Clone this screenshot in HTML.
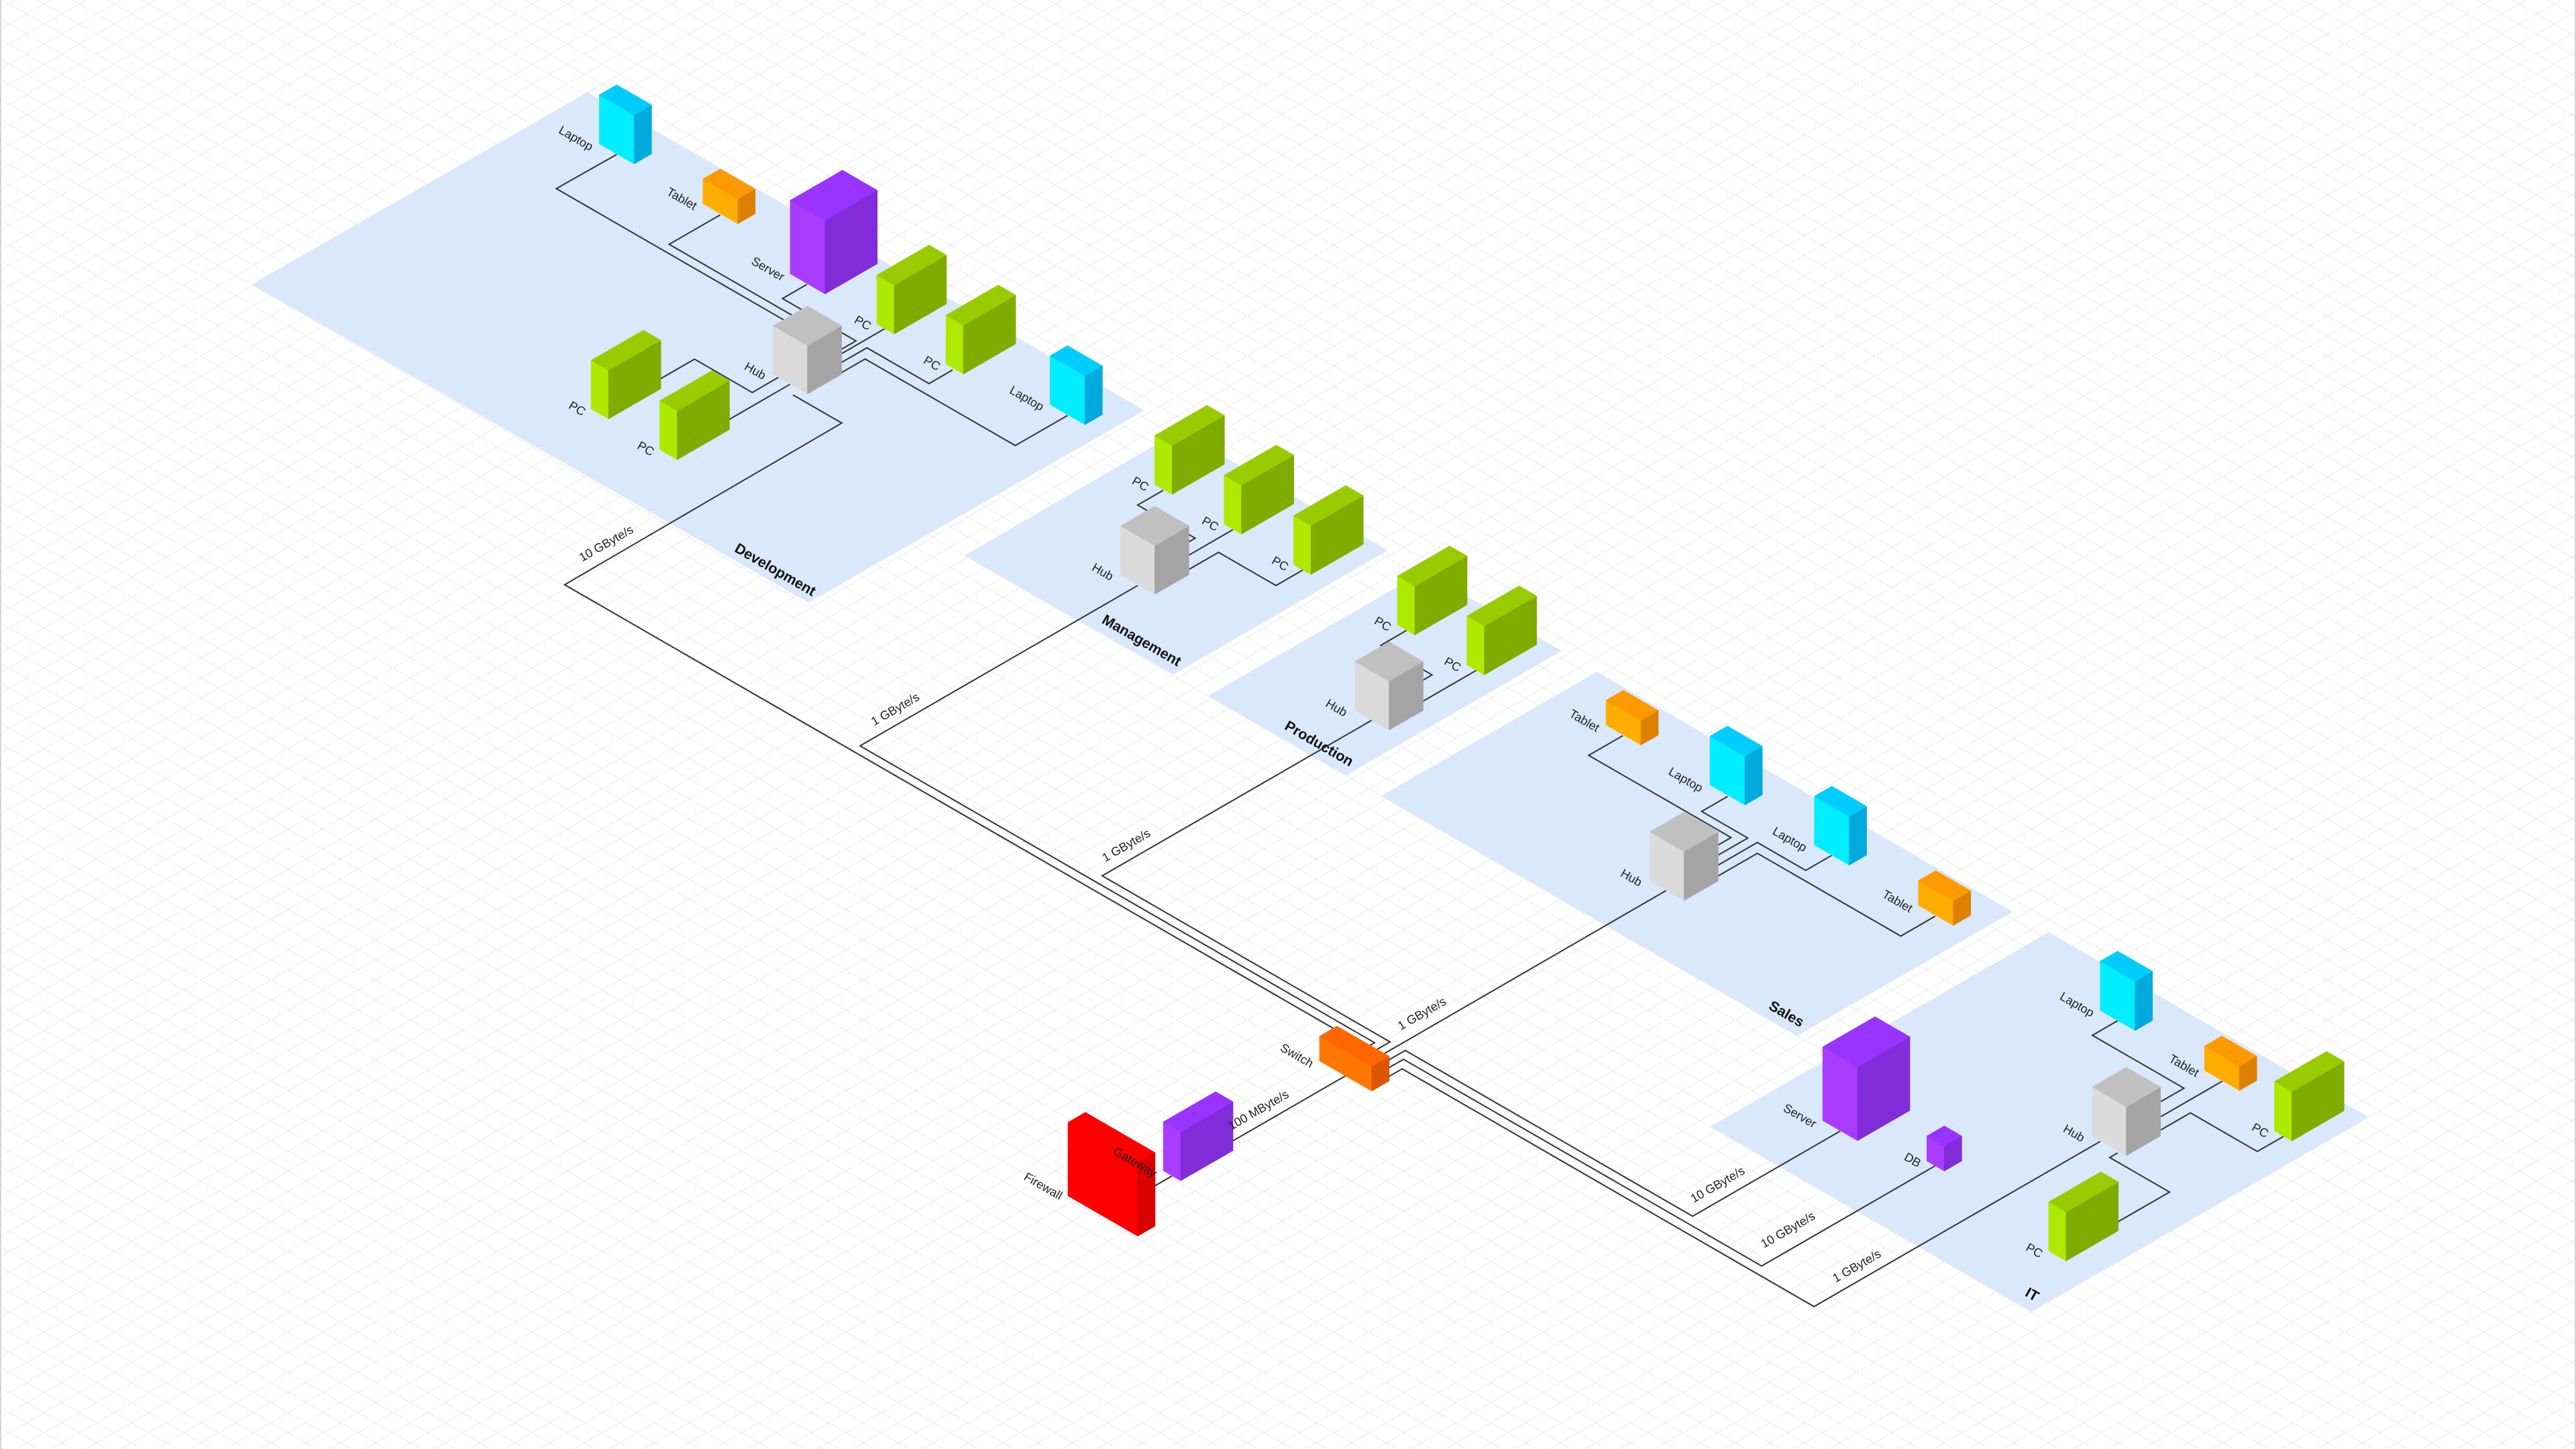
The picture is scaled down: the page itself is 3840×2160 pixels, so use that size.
<!DOCTYPE html>
<html>
<head>
<meta charset="utf-8">
<style>
html,body{margin:0;padding:0;background:#fff;}
svg{display:block;}
.l,.r,.t{stroke-width:.3;stroke-linejoin:round;}
.cy .l{fill:#00eeff;stroke:#00eeff}.cy .t{fill:#00ccff;stroke:#00ccff}.cy .r{fill:#00aadd;stroke:#00aadd}
.lm .l{fill:#aeea00;stroke:#aeea00}.lm .t{fill:#99cc00;stroke:#99cc00}.lm .r{fill:#80ab00;stroke:#80ab00}
.pu .l{fill:#aa3cff;stroke:#aa3cff}.pu .t{fill:#9933ff;stroke:#9933ff}.pu .r{fill:#812bd9;stroke:#812bd9}
.or .l{fill:#ffae00;stroke:#ffae00}.or .t{fill:#ff9900;stroke:#ff9900}.or .r{fill:#dd8000;stroke:#dd8000}
.gy .l{fill:#dbdbdb;stroke:#dbdbdb}.gy .t{fill:#c0c0c0;stroke:#c0c0c0}.gy .r{fill:#a4a4a4;stroke:#a4a4a4}
.sw .l{fill:#ff7700;stroke:#ff7700}.sw .t{fill:#ff6600;stroke:#ff6600}.sw .r{fill:#dd5500;stroke:#dd5500}
.rd .l{fill:#ff0000;stroke:#ff0000}.rd .t{fill:#ff0000;stroke:#ff0000}.rd .r{fill:#d90000;stroke:#d90000}
.pl{fill:#dae8fc;}
.cn polyline{fill:none;stroke:#333333;stroke-width:.82;stroke-linejoin:miter;}
.lb text{font-family:"Liberation Sans",Arial,sans-serif;font-size:7.4px;fill:#222;}
.lb text.g{font-weight:bold;font-size:8.8px;fill:#111;}
</style>
</head>
<body>
<svg xmlns="http://www.w3.org/2000/svg" width="3840" height="2160" viewBox="0 0 3840 2160">
<defs>
<pattern id="grid" x="14.02" y="5.7" width="51.962" height="30" patternUnits="userSpaceOnUse">
<path d="M0 0L51.962 30M0 30L51.962 0" stroke="#d2d2d2" stroke-width="1" stroke-dasharray="2 2" fill="none"/>
</pattern>
</defs>
<rect width="3840" height="2160" fill="#ffffff"/>
<rect width="3840" height="2160" fill="url(#grid)"/>
<rect x="0" y="0" width="2" height="2160" fill="#d6d6d6"/>
<rect x="3838" y="0" width="2" height="2160" fill="#d6d6d6"/>

<g transform="scale(2.44898)">

<!-- Planes -->
<polygon class="pl" points="153.3,173.1 357.7,56.1 696.6,249.8 492.2,366.8"/>
<polygon class="pl" points="587.2,338.1 717.7,262.5 844.7,335 714.2,410.6"/>
<polygon class="pl" points="735.5,423.6 866.8,347.8 950.5,396.2 819.2,472"/>
<polygon class="pl" points="840.7,484.5 972,409 1225.1,555 1094,630.5"/>
<polygon class="pl" points="1041.2,685.7 1247,567.4 1441.7,680 1236.4,798.3"/>

<!-- Connectors -->
<g class="cn">
<!-- Development -->
<polyline points="375.4,94 338.6,114.8 485,199.3"/>
<polyline points="438.4,130.8 407.3,148.7 488,195.3"/>
<polyline points="491.2,173.1 476.3,181.7 521,207.5 512.4,212.5"/>
<polyline points="538.3,200.2 512.4,215.2"/>
<polyline points="579.8,225.2 565.5,233.5 527.7,211.7 512.4,220.5"/>
<polyline points="649.8,252.9 618,271.2 526.6,218.5 512.4,226.7"/>
<polyline points="401.6,230.8 422.8,218.6 457.9,238.9 474.5,229.3"/>
<polyline points="443.7,255.4 480.9,233.9"/>
<polyline points="482.7,240.4 512.4,257.5 343.7,355.9 828,635.4 822,639"/>
<!-- Management -->
<polyline points="708,298.5 692.5,307.4 727.5,327.6 723.7,329.8"/>
<polyline points="750.5,322.4 723.7,337.9"/>
<polyline points="793,347 776.7,356.4 741.7,336.2 723.7,346.6"/>
<polyline points="692.5,356.4 523.5,454 836.7,634.7 831,638"/>
<!-- Production -->
<polyline points="856.2,383.7 840.5,392.8 871.7,410.8 866.2,414"/>
<polyline points="898.7,408 866.2,426.8"/>
<polyline points="835,438.4 670.9,533.1 846.1,634.2 836,640"/>
<!-- Sales -->
<polyline points="987.8,447.8 967,459.8 1053.7,509.8 1046,514.3"/>
<polyline points="1051.6,484.8 1035.8,493.9 1063.9,510.1 1046,520.4"/>
<polyline points="1114.9,520.7 1099.1,529.8 1069.7,512.8 1046,526.5"/>
<polyline points="1177.9,557.7 1157,569.8 1069.7,519.4 1046,533.1"/>
<polyline points="1014.1,542.1 838,644"/>
<!-- IT -->
<polyline points="1289,621.3 1273.6,630.2 1329.4,662.4 1315.3,670.5"/>
<polyline points="1352.7,658.1 1315.3,679.7"/>
<polyline points="1390,691.7 1374,700.9 1333.3,677.4 1315.3,687.8"/>
<polyline points="1288.7,744 1320.6,725.6 1284.2,704.6 1289,701.8"/>
<polyline points="1278.4,694.8 1104.2,795.3 853.5,650.6 840,658.4"/>
<polyline points="1178,709.6 1072.3,770.6 854.3,644.8 840,653"/>
<polyline points="1120.1,688.5 1030.3,740.3 855.4,639.4 840,648.3"/>
<!-- Firewall/Gateway/Switch -->
<polyline points="690,729.3 825,651.4"/>
</g>

<!-- Boxes (back to front) -->
<!-- Dev Laptop1 -->
<g class="cy" transform="translate(386,99.8)"><rect class="l" width="24.5" height="29.8" transform="matrix(-.866,-.5,0,-1,0,0)"/><rect class="r" width="12.25" height="29.8" transform="matrix(.866,-.5,0,-1,0,0)"/><rect class="t" width="24.5" height="12.25" transform="matrix(-.866,-.5,.866,-.5,0,-29.8)"/></g>
<!-- Dev Tablet -->
<g class="or" transform="translate(449.1,136.2)"><rect class="l" width="24.5" height="15" transform="matrix(-.866,-.5,0,-1,0,0)"/><rect class="r" width="12.25" height="15" transform="matrix(.866,-.5,0,-1,0,0)"/><rect class="t" width="24.5" height="12.25" transform="matrix(-.866,-.5,.866,-.5,0,-15)"/></g>
<!-- Dev Server -->
<g class="pu" transform="translate(502.2,178.9)"><rect class="l" width="24.5" height="44.7" transform="matrix(-.866,-.5,0,-1,0,0)"/><rect class="r" width="36.75" height="44.7" transform="matrix(.866,-.5,0,-1,0,0)"/><rect class="t" width="24.5" height="36.75" transform="matrix(-.866,-.5,.866,-.5,0,-44.7)"/></g>
<!-- Dev PC1 -->
<g class="lm" transform="translate(544.3,203.3)"><rect class="l" width="12.25" height="29.7" transform="matrix(-.866,-.5,0,-1,0,0)"/><rect class="r" width="36.75" height="29.7" transform="matrix(.866,-.5,0,-1,0,0)"/><rect class="t" width="12.25" height="36.75" transform="matrix(-.866,-.5,.866,-.5,0,-29.7)"/></g>
<!-- Dev PC2 -->
<g class="lm" transform="translate(586.4,227.7)"><rect class="l" width="12.25" height="29.7" transform="matrix(-.866,-.5,0,-1,0,0)"/><rect class="r" width="36.75" height="29.7" transform="matrix(.866,-.5,0,-1,0,0)"/><rect class="t" width="12.25" height="36.75" transform="matrix(-.866,-.5,.866,-.5,0,-29.7)"/></g>
<!-- Dev Hub -->
<g class="gy" transform="translate(491.5,239.8)"><rect class="l" width="24" height="29.5" transform="matrix(-.866,-.5,0,-1,0,0)"/><rect class="r" width="24" height="29.5" transform="matrix(.866,-.5,0,-1,0,0)"/><rect class="t" width="24" height="24" transform="matrix(-.866,-.5,.866,-.5,0,-29.5)"/></g>
<!-- Dev PC L1 -->
<g class="lm" transform="translate(370.4,255)"><rect class="l" width="12.25" height="29.5" transform="matrix(-.866,-.5,0,-1,0,0)"/><rect class="r" width="36.75" height="29.5" transform="matrix(.866,-.5,0,-1,0,0)"/><rect class="t" width="12.25" height="36.75" transform="matrix(-.866,-.5,.866,-.5,0,-29.5)"/></g>
<!-- Dev Laptop2 -->
<g class="cy" transform="translate(660.4,258.5)"><rect class="l" width="24.5" height="29.7" transform="matrix(-.866,-.5,0,-1,0,0)"/><rect class="r" width="12.25" height="29.7" transform="matrix(.866,-.5,0,-1,0,0)"/><rect class="t" width="24.5" height="12.25" transform="matrix(-.866,-.5,.866,-.5,0,-29.7)"/></g>
<!-- Dev PC L2 -->
<g class="lm" transform="translate(412.2,279.8)"><rect class="l" width="12.25" height="29.7" transform="matrix(-.866,-.5,0,-1,0,0)"/><rect class="r" width="36.75" height="29.7" transform="matrix(.866,-.5,0,-1,0,0)"/><rect class="t" width="12.25" height="36.75" transform="matrix(-.866,-.5,.866,-.5,0,-29.7)"/></g>

<!-- Mgmt PCs -->
<g class="lm" transform="translate(713.5,300.9)"><rect class="l" width="12.25" height="29.7" transform="matrix(-.866,-.5,0,-1,0,0)"/><rect class="r" width="36.75" height="29.7" transform="matrix(.866,-.5,0,-1,0,0)"/><rect class="t" width="12.25" height="36.75" transform="matrix(-.866,-.5,.866,-.5,0,-29.7)"/></g>
<g class="lm" transform="translate(755.7,325.1)"><rect class="l" width="12.25" height="29.7" transform="matrix(-.866,-.5,0,-1,0,0)"/><rect class="r" width="36.75" height="29.7" transform="matrix(.866,-.5,0,-1,0,0)"/><rect class="t" width="12.25" height="36.75" transform="matrix(-.866,-.5,.866,-.5,0,-29.7)"/></g>
<g class="lm" transform="translate(798,349.7)"><rect class="l" width="12.25" height="29.7" transform="matrix(-.866,-.5,0,-1,0,0)"/><rect class="r" width="36.75" height="29.7" transform="matrix(.866,-.5,0,-1,0,0)"/><rect class="t" width="12.25" height="36.75" transform="matrix(-.866,-.5,.866,-.5,0,-29.7)"/></g>
<!-- Mgmt Hub -->
<g class="gy" transform="translate(702.9,361.8)"><rect class="l" width="24" height="29.7" transform="matrix(-.866,-.5,0,-1,0,0)"/><rect class="r" width="24" height="29.7" transform="matrix(.866,-.5,0,-1,0,0)"/><rect class="t" width="24" height="24" transform="matrix(-.866,-.5,.866,-.5,0,-29.7)"/></g>

<!-- Prod PCs -->
<g class="lm" transform="translate(861.2,386.5)"><rect class="l" width="12.25" height="29.7" transform="matrix(-.866,-.5,0,-1,0,0)"/><rect class="r" width="36.75" height="29.7" transform="matrix(.866,-.5,0,-1,0,0)"/><rect class="t" width="12.25" height="36.75" transform="matrix(-.866,-.5,.866,-.5,0,-29.7)"/></g>
<g class="lm" transform="translate(903.5,410.8)"><rect class="l" width="12.25" height="29.7" transform="matrix(-.866,-.5,0,-1,0,0)"/><rect class="r" width="36.75" height="29.7" transform="matrix(.866,-.5,0,-1,0,0)"/><rect class="t" width="12.25" height="36.75" transform="matrix(-.866,-.5,.866,-.5,0,-29.7)"/></g>
<!-- Prod Hub -->
<g class="gy" transform="translate(845.5,444.4)"><rect class="l" width="24" height="29.7" transform="matrix(-.866,-.5,0,-1,0,0)"/><rect class="r" width="24" height="29.7" transform="matrix(.866,-.5,0,-1,0,0)"/><rect class="t" width="24" height="24" transform="matrix(-.866,-.5,.866,-.5,0,-29.7)"/></g>

<!-- Sales -->
<g class="or" transform="translate(998.8,453.5)"><rect class="l" width="24.5" height="15" transform="matrix(-.866,-.5,0,-1,0,0)"/><rect class="r" width="12.25" height="15" transform="matrix(.866,-.5,0,-1,0,0)"/><rect class="t" width="24.5" height="12.25" transform="matrix(-.866,-.5,.866,-.5,0,-15)"/></g>
<g class="cy" transform="translate(1062.1,490)"><rect class="l" width="24.5" height="29.7" transform="matrix(-.866,-.5,0,-1,0,0)"/><rect class="r" width="12.25" height="29.7" transform="matrix(.866,-.5,0,-1,0,0)"/><rect class="t" width="24.5" height="12.25" transform="matrix(-.866,-.5,.866,-.5,0,-29.7)"/></g>
<g class="cy" transform="translate(1125.6,526.6)"><rect class="l" width="24.5" height="29.7" transform="matrix(-.866,-.5,0,-1,0,0)"/><rect class="r" width="12.25" height="29.7" transform="matrix(.866,-.5,0,-1,0,0)"/><rect class="t" width="24.5" height="12.25" transform="matrix(-.866,-.5,.866,-.5,0,-29.7)"/></g>
<g class="gy" transform="translate(1025.1,548.2)"><rect class="l" width="24" height="29.9" transform="matrix(-.866,-.5,0,-1,0,0)"/><rect class="r" width="24" height="29.9" transform="matrix(.866,-.5,0,-1,0,0)"/><rect class="t" width="24" height="24" transform="matrix(-.866,-.5,.866,-.5,0,-29.9)"/></g>
<g class="or" transform="translate(1188.9,563.3)"><rect class="l" width="24.5" height="15" transform="matrix(-.866,-.5,0,-1,0,0)"/><rect class="r" width="12.25" height="15" transform="matrix(.866,-.5,0,-1,0,0)"/><rect class="t" width="24.5" height="12.25" transform="matrix(-.866,-.5,.866,-.5,0,-15)"/></g>

<!-- IT Laptop -->
<g class="cy" transform="translate(1299.6,627.3)"><rect class="l" width="24.5" height="30" transform="matrix(-.866,-.5,0,-1,0,0)"/><rect class="r" width="12.25" height="30" transform="matrix(.866,-.5,0,-1,0,0)"/><rect class="t" width="24.5" height="12.25" transform="matrix(-.866,-.5,.866,-.5,0,-30)"/></g>
<!-- IT Tablet -->
<g class="or" transform="translate(1363.1,663.8)"><rect class="l" width="24.5" height="14.8" transform="matrix(-.866,-.5,0,-1,0,0)"/><rect class="r" width="12.25" height="14.8" transform="matrix(.866,-.5,0,-1,0,0)"/><rect class="t" width="24.5" height="12.25" transform="matrix(-.866,-.5,.866,-.5,0,-14.8)"/></g>
<!-- Switch -->
<g class="sw" transform="translate(835,664.1)"><rect class="l" width="36.75" height="15" transform="matrix(-.866,-.5,0,-1,0,0)"/><rect class="r" width="12.25" height="15" transform="matrix(.866,-.5,0,-1,0,0)"/><rect class="t" width="36.75" height="12.25" transform="matrix(-.866,-.5,.866,-.5,0,-15)"/></g>
<!-- IT Server -->
<g class="pu" transform="translate(1130.7,694.3)"><rect class="l" width="24.5" height="44.8" transform="matrix(-.866,-.5,0,-1,0,0)"/><rect class="r" width="36.75" height="44.8" transform="matrix(.866,-.5,0,-1,0,0)"/><rect class="t" width="24.5" height="36.75" transform="matrix(-.866,-.5,.866,-.5,0,-44.8)"/></g>
<!-- IT PC right -->
<g class="lm" transform="translate(1395,694.5)"><rect class="l" width="12.25" height="30" transform="matrix(-.866,-.5,0,-1,0,0)"/><rect class="r" width="36.75" height="30" transform="matrix(.866,-.5,0,-1,0,0)"/><rect class="t" width="12.25" height="36.75" transform="matrix(-.866,-.5,.866,-.5,0,-30)"/></g>
<!-- IT Hub -->
<g class="gy" transform="translate(1294.3,703.4)"><rect class="l" width="24" height="29.7" transform="matrix(-.866,-.5,0,-1,0,0)"/><rect class="r" width="24" height="29.7" transform="matrix(.866,-.5,0,-1,0,0)"/><rect class="t" width="24" height="24" transform="matrix(-.866,-.5,.866,-.5,0,-29.7)"/></g>
<!-- IT DB -->
<g class="pu" transform="translate(1183.5,712.8)"><rect class="l" width="12.25" height="15.2" transform="matrix(-.866,-.5,0,-1,0,0)"/><rect class="r" width="12.25" height="15.2" transform="matrix(.866,-.5,0,-1,0,0)"/><rect class="t" width="12.25" height="12.25" transform="matrix(-.866,-.5,.866,-.5,0,-15.2)"/></g>
<!-- Gateway -->
<g class="pu" transform="translate(718.7,718.7)"><rect class="l" width="12.25" height="29.7" transform="matrix(-.866,-.5,0,-1,0,0)"/><rect class="r" width="36.75" height="29.7" transform="matrix(.866,-.5,0,-1,0,0)"/><rect class="t" width="12.25" height="36.75" transform="matrix(-.866,-.5,.866,-.5,0,-29.7)"/></g>
<!-- Firewall -->
<g class="rd" transform="translate(692.5,752.4)"><rect class="l" width="49" height="44.7" transform="matrix(-.866,-.5,0,-1,0,0)"/><rect class="r" width="12.25" height="44.7" transform="matrix(.866,-.5,0,-1,0,0)"/><rect class="t" width="49" height="12.25" transform="matrix(-.866,-.5,.866,-.5,0,-44.7)"/></g>
<!-- IT PC bottom -->
<g class="lm" transform="translate(1257.6,767.5)"><rect class="l" width="12.25" height="29.7" transform="matrix(-.866,-.5,0,-1,0,0)"/><rect class="r" width="36.75" height="29.7" transform="matrix(.866,-.5,0,-1,0,0)"/><rect class="t" width="12.25" height="36.75" transform="matrix(-.866,-.5,.866,-.5,0,-29.7)"/></g>

<!-- Labels -->
<g class="lb" text-anchor="middle" dominant-baseline="central">
<!-- Development -->
<text transform="translate(350.6,84.2) rotate(30)">Laptop</text>
<text transform="translate(415,121) rotate(30)">Tablet</text>
<text transform="translate(467.5,163.7) rotate(30)">Server</text>
<text transform="translate(525.2,196.6) rotate(30)">PC</text>
<text transform="translate(567.3,221.2) rotate(30)">PC</text>
<text transform="translate(625,242.5) rotate(30)">Laptop</text>
<text transform="translate(459.7,225.8) rotate(30)">Hub</text>
<text transform="translate(351.3,248.7) rotate(30)">PC</text>
<text transform="translate(393.1,273.1) rotate(30)">PC</text>
<text transform="translate(369,330.8) rotate(-30)">10 GByte/s</text>
<text class="g" transform="translate(472,346.6) rotate(30)">Development</text>
<!-- Management -->
<text transform="translate(694.2,294.6) rotate(30)">PC</text>
<text transform="translate(736.7,318.9) rotate(30)">PC</text>
<text transform="translate(779.2,343.1) rotate(30)">PC</text>
<text transform="translate(671.2,348.1) rotate(30)">Hub</text>
<text class="g" transform="translate(695,389.7) rotate(30)">Management</text>
<text transform="translate(544.9,431.7) rotate(-30)">1 GByte/s</text>
<!-- Production -->
<text transform="translate(841.7,379.8) rotate(30)">PC</text>
<text transform="translate(884.2,404.5) rotate(30)">PC</text>
<text transform="translate(813.5,430.9) rotate(30)">Hub</text>
<text class="g" transform="translate(803,452.5) rotate(30)">Production</text>
<text transform="translate(685.5,514.6) rotate(-30)">1 GByte/s</text>
<!-- Sales -->
<text transform="translate(964.4,438.7) rotate(30)">Tablet</text>
<text transform="translate(1026.1,474.6) rotate(30)">Laptop</text>
<text transform="translate(1089.4,510.9) rotate(30)">Laptop</text>
<text transform="translate(1155,548.6) rotate(30)">Tablet</text>
<text transform="translate(993,534.3) rotate(30)">Hub</text>
<text class="g" transform="translate(1087.5,617) rotate(30)">Sales</text>
<text transform="translate(865.5,617) rotate(-30)">1 GByte/s</text>
<!-- IT -->
<text transform="translate(1264.3,611.5) rotate(30)">Laptop</text>
<text transform="translate(1329.4,648.7) rotate(30)">Tablet</text>
<text transform="translate(1375.8,688.1) rotate(30)">PC</text>
<text transform="translate(1262.4,689.8) rotate(30)">Hub</text>
<text transform="translate(1095.6,679.2) rotate(30)">Server</text>
<text transform="translate(1164.2,706.1) rotate(30)">DB</text>
<text transform="translate(1238.3,761.2) rotate(30)">PC</text>
<text class="g" transform="translate(1237,787.8) rotate(30)">IT</text>
<text transform="translate(1045.5,721.1) rotate(-30)">10 GByte/s</text>
<text transform="translate(1088.3,748.6) rotate(-30)">10 GByte/s</text>
<text transform="translate(1130.2,770.6) rotate(-30)">1 GByte/s</text>
<!-- Center -->
<text transform="translate(789.4,642.5) rotate(30)">Switch</text>
<text transform="translate(690.9,707.4) rotate(30)">Gateway</text>
<text transform="translate(635,722) rotate(30)">Firewall</text>
<text transform="translate(766,675.7) rotate(-30)">100 MByte/s</text>
</g>

</g>
</svg>
</body>
</html>
